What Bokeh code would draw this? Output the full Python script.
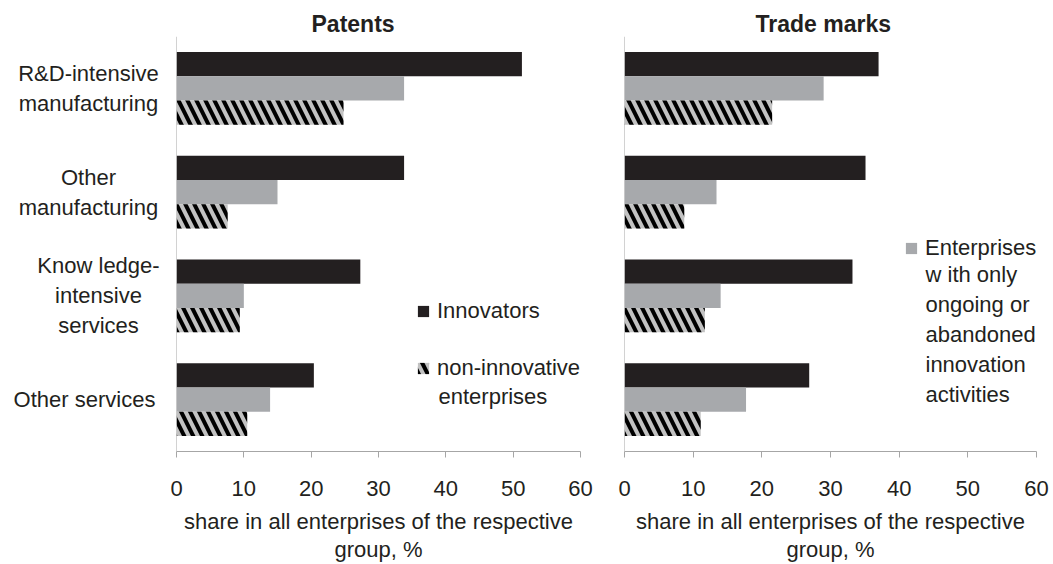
from bokeh.plotting import figure
from bokeh.layouts import row
from bokeh.models import (Range1d, Legend, LegendItem, ColumnDataSource,
                          FixedTicker, Span, Label)
from bokeh.core.properties import value
from bokeh.transform import dodge
from bokeh.embed import file_html
from bokeh.resources import INLINE

# ---- data -------------------------------------------------------------
categories = ["R&D-intensive\nmanufacturing", "Other\nmanufacturing",
              "Know ledge-\nintensive\nservices", "Other services"]
patents_innovators = [51.3, 33.8, 27.3, 20.4]
patents_ongoing = [33.8, 15.0, 10.0, 13.9]
patents_noninnov = [24.8, 7.6, 9.4, 10.5]
tm_innovators = [37.0, 35.1, 33.2, 26.9]
tm_ongoing = [29.0, 13.4, 14.0, 17.7]
tm_noninnov = [21.5, 8.7, 11.7, 11.1]
x_ticks = [0, 10, 20, 30, 40, 50, 60]
panel_titles = ["Patents", "Trade marks"]
series_first_lines = ["Innovators", "Enterprises", "non-innovative"]
series_more_lines = ["", "w ith only\nongoing or\nabandoned\ninnovation\nactivities",
                     "enterprises"]
x_label = "share in all enterprises of the respective\ngroup, %"

# ---- style ------------------------------------------------------------
FONT = "Liberation Sans"
FS = "22px"
TXT = "#231f20"
BLACK = "#231f20"
GREY = "#a7a9ac"
HATCH_BG = "#c2c2c2"
AXIS = "#a6a6a6"
BAR_H = 0.234
H = 564
TOP = 36
BOTTOM = 112
LABEL_W = 168
# horizontal centre of each category label block (px in the label strip)
CAT_LABEL_X = [88, 88, 98, 84]

n = len(categories)
ypos = [n - 1 - i for i in range(n)]
y_range = Range1d(-0.5, n - 0.5)


def make_panel(title, inn, ong, non, width, border_left, border_right, title_offset):
    src = ColumnDataSource(dict(y=ypos, inn=inn, ong=ong, non=non))
    p = figure(width=width, height=H, y_range=y_range, x_range=Range1d(0, 60),
               output_backend="svg", toolbar_location=None,
               y_axis_location=None,
               min_border_left=border_left, min_border_right=border_right,
               min_border_top=TOP, min_border_bottom=BOTTOM)
    p.outline_line_color = None
    p.xgrid.visible = False
    p.ygrid.visible = False
    p.background_fill_color = "white"

    r1 = p.hbar(y=dodge("y", BAR_H), left=0, right="inn",
                height=BAR_H, source=src, fill_color=BLACK, line_color=None)
    r2 = p.hbar(y=dodge("y", 0), left=0, right="ong",
                height=BAR_H, source=src, fill_color=GREY, line_color=None)
    r3 = p.hbar(y=dodge("y", -BAR_H), left=0, right="non",
                height=BAR_H, source=src, fill_color=HATCH_BG, line_color=None,
                hatch_pattern="\\", hatch_color="black", hatch_weight=4,
                hatch_scale=18)

    # vertical axis line
    p.add_layout(Span(location=0, dimension="height", line_color=AXIS,
                      line_width=1))

    # title
    p.title.text = title
    p.title.align = "left"
    p.title.offset = title_offset
    p.title.text_font = FONT
    p.title.text_font_size = "23px"
    p.title.text_font_style = "bold"
    p.title.text_color = TXT
    p.title.standoff = -1

    # x axis
    xa = p.xaxis[0]
    xa.ticker = FixedTicker(ticks=x_ticks)
    xa.minor_tick_line_color = None
    xa.axis_line_color = AXIS
    xa.major_tick_line_color = AXIS
    xa.major_tick_out = 6
    xa.major_tick_in = 0
    xa.major_label_text_font = FONT
    xa.major_label_text_font_size = FS
    xa.major_label_text_color = TXT
    xa.major_label_standoff = 23
    xa.axis_label = x_label
    xa.axis_label_text_font = FONT
    xa.axis_label_text_font_size = FS
    xa.axis_label_text_font_style = "normal"
    xa.axis_label_text_color = TXT
    xa.axis_label_standoff = 10
    xa.axis_label_text_line_height = 1.12
    return p, (r1, r2, r3)


def style_legend(lg):
    lg.glyph_width = 14
    lg.glyph_height = 14
    lg.label_text_font = FONT
    lg.label_text_font_size = FS
    lg.label_text_color = TXT
    lg.label_standoff = 7
    lg.label_height = 14
    lg.padding = 0
    lg.margin = 0
    lg.border_line_color = None
    lg.background_fill_alpha = 0


def more_text(p, text, x, y):
    p.add_layout(Label(x=x, y=y, x_units="screen", y_units="screen", text=text,
                       text_align="left", text_baseline="middle", text_font=FONT,
                       text_font_size=FS, text_color=TXT, text_line_height=1.2))


# ---- category label strip -------------------------------------------------
p0 = figure(width=LABEL_W, height=H, y_range=y_range, x_range=Range1d(0, LABEL_W),
            output_backend="svg", toolbar_location=None,
            x_axis_location=None, y_axis_location=None,
            min_border_left=0, min_border_right=0,
            min_border_top=TOP, min_border_bottom=BOTTOM)
p0.outline_line_color = None
p0.xgrid.visible = False
p0.ygrid.visible = False
p0.text(x=CAT_LABEL_X, y=ypos, text=categories, text_align="center",
        text_baseline="middle", text_font=value(FONT), text_font_size=value(FS),
        text_color=TXT, text_line_height=1.2)

p1, rs1 = make_panel(panel_titles[0], patents_innovators, patents_ongoing,
                     patents_noninnov, 600 - LABEL_W, 176 - LABEL_W, 20, 135)
p2, rs2 = make_panel(panel_titles[1], tm_innovators, tm_ongoing, tm_noninnov,
                     453, 24, 17, 131)

lg1 = Legend(items=[LegendItem(label=series_first_lines[0], renderers=[rs1[0]]),
                    LegendItem(label=series_first_lines[2], renderers=[rs1[2]])],
             location=(240, 70), spacing=31)
style_legend(lg1)
p1.add_layout(lg1)
more_text(p1, series_more_lines[2], 262, 55)

lg2 = Legend(items=[LegendItem(label=series_first_lines[1], renderers=[rs2[1]])],
             location=(280, 190))
style_legend(lg2)
p2.add_layout(lg2)
more_text(p2, series_more_lines[1], 301, 117)

layout = row(p0, p1, p2)
open("out.html", "w").write(file_html(layout, INLINE))
